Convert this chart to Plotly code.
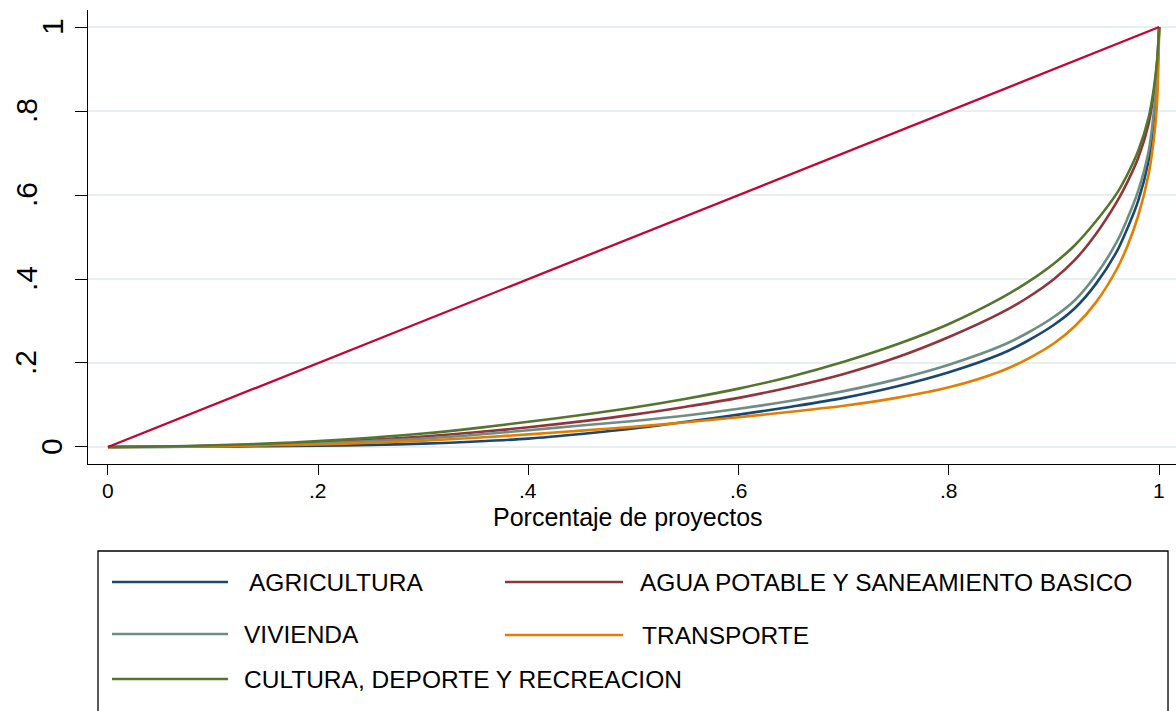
import plotly.graph_objects as go

# ---------------- data ----------------
x_share = [0, .05, .1, .15, .2, .25, .3, .35, .4, .45, .5, .55, .6, .65, .7, .75, .8,
           .85, .875, .9, .92, .94, .96, .97, .98, .99, .995, .998, 1.0]
agricultura = [0, .0002, .001, .002, .003, .005, .008, .013, .020, .031, .044, .060, .077, .096, .117, .144, .178,
               .222, .253, .291, .331, .389, .467, .522, .586, .683, .780, .875, 1]
agua = [0, .001, .003, .006, .010, .017, .025, .035, .047, .061, .077, .096, .117, .143, .174, .213, .262,
        .320, .356, .400, .446, .508, .585, .632, .688, .770, .845, .915, 1]
vivienda = [0, .0005, .002, .005, .009, .014, .020, .029, .040, .051, .062, .075, .091, .110, .133, .161, .196,
            .241, .272, .310, .350, .410, .490, .545, .610, .705, .800, .890, 1]
transporte = [0, .0005, .002, .004, .006, .010, .015, .022, .030, .039, .048, .059, .071, .084, .098, .117, .142,
              .181, .210, .247, .288, .345, .425, .480, .550, .650, .735, .820, 1]
cultura = [0, .001, .004, .008, .014, .022, .032, .045, .060, .076, .094, .115, .139, .168, .203, .244, .293,
           .355, .3925, .437, .481, .538, .605, .650, .705, .785, .855, .920, 1]
equality_x = [0, 1]
equality_y = [0, 1]

series_names = ["AGRICULTURA", "AGUA POTABLE Y SANEAMIENTO BASICO", "VIVIENDA",
                "TRANSPORTE", "CULTURA, DEPORTE Y RECREACION"]
series_values = [agricultura, agua, vivienda, transporte, cultura]

x_tickvals = [0, 0.2, 0.4, 0.6, 0.8, 1]
x_ticktext = ["0", ".2", ".4", ".6", ".8", "1"]
y_tickvals = [0, 0.2, 0.4, 0.6, 0.8, 1]
y_ticktext = ["0", ".2", ".4", ".6", ".8", "1"]
x_title = "Porcentaje de proyectos"

# ---------------- style ----------------
colors = ["#1a476f", "#90353b", "#6e8e84", "#e37e00", "#55752f"]
equality_color = "#c10534"
FONT = "Liberation Sans, Arial, Helvetica, sans-serif"

W, H = 1176, 711
ML, MR, MT, MB = 88, 0, 10, 247
PW = W - ML - MR
PH = H - MT - MB


def px_x(px):
    return (px - ML) / PW


def px_y(py):
    return (H - MB - py) / PH


fig = go.Figure()
for name, vals, col in zip(series_names, series_values, colors):
    fig.add_trace(go.Scatter(x=x_share, y=vals, mode="lines", name=name,
                             line=dict(color=col, width=2.6, shape="spline", smoothing=0.9)))
fig.add_trace(go.Scatter(x=equality_x, y=equality_y, mode="lines", name="equality",
                         line=dict(color=equality_color, width=2.3)))

fig.update_layout(
    template="none",
    width=W, height=H,
    margin=dict(l=ML, r=MR, t=MT, b=MB, pad=0),
    paper_bgcolor="white", plot_bgcolor="white",
    showlegend=False,
    font=dict(family=FONT, color="black"),
)
fig.update_xaxes(
    range=[-0.019, 1.016], tickvals=x_tickvals, showticklabels=False,
    ticks="outside", ticklen=10, tickwidth=1.3, tickcolor="black",
    showline=True, linecolor="black", linewidth=1.3,
    showgrid=False, zeroline=False, automargin=False,
)
fig.update_yaxes(
    range=[-0.0405, 1.0405], tickvals=y_tickvals, showticklabels=False,
    ticks="outside", ticklen=12, tickwidth=1.3, tickcolor="black",
    showline=True, linecolor="black", linewidth=1.3,
    showgrid=True, gridcolor="#e8eff1", gridwidth=2, zeroline=False, automargin=False,
)

annotations = []
# x tick labels
for v, t in zip(x_tickvals, x_ticktext):
    annotations.append(dict(x=v, y=px_y(490), xref="x", yref="paper", text=t,
                            showarrow=False, xanchor="center", yanchor="middle", borderpad=0,
                            font=dict(family=FONT, size=21, color="black")))
# rotated y tick labels
for v, t in zip(y_tickvals, y_ticktext):
    cx = 52 if len(t) == 1 else 26
    annotations.append(dict(x=px_x(cx), y=v, xref="paper", yref="y", text=t,
                            textangle=-90, showarrow=False, xanchor="center", yanchor="middle",
                            font=dict(family=FONT, size=30, color="black")))
# x axis title
annotations.append(dict(x=px_x(628), y=px_y(517), xref="paper", yref="paper", text=x_title,
                        showarrow=False, xanchor="center", yanchor="middle", borderpad=0,
                        font=dict(family=FONT, size=25, color="black")))

shapes = []
# legend box
shapes.append(dict(type="rect", xref="paper", yref="paper",
                   x0=px_x(98), x1=px_x(1168), y0=px_y(551), y1=px_y(730),
                   line=dict(color="black", width=1.3), fillcolor="rgba(0,0,0,0)"))
legend_slots = [  # (line x0, line x1, y, text x)
    (112, 228, 582, 247),
    (505, 623, 582, 638),
    (112, 228, 634, 242),
    (505, 623, 635, 640),
    (112, 228, 679, 242),
]
for (lx0, lx1, ly, tx), name, col in zip(legend_slots, series_names, colors):
    shapes.append(dict(type="line", xref="paper", yref="paper",
                       x0=px_x(lx0), x1=px_x(lx1), y0=px_y(ly), y1=px_y(ly),
                       line=dict(color=col, width=2.6)))
    annotations.append(dict(x=px_x(tx), y=px_y(ly), xref="paper", yref="paper", text=name,
                            showarrow=False, xanchor="left", yanchor="middle",
                            font=dict(family=FONT, size=24.5, color="black")))

fig.update_layout(annotations=annotations, shapes=shapes)
fig.write_html("out.html", post_script="document.body.style.margin='0px';",
               config={"displayModeBar": False})
